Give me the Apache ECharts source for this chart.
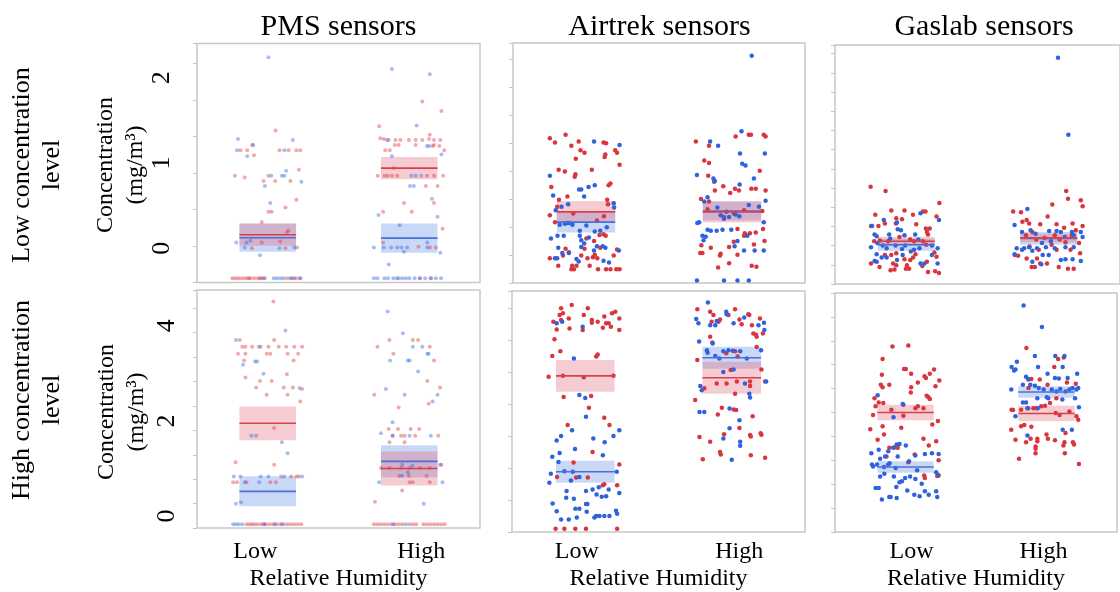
<!DOCTYPE html>
<html><head><meta charset="utf-8">
<script src="https://cdn.jsdelivr.net/npm/echarts@6/dist/echarts.min.js"></script>
<style>html,body{margin:0;padding:0;background:#fff}#c{width:1120px;height:592px}</style>
</head><body><div id="c"></div>
<script>
// ---- categories / labels ----
const rhCategories = ['Low', 'High'];
const sensorTitles = ['PMS sensors', 'Airtrek sensors', 'Gaslab sensors'];
const rowTitles = ['Low concentration\nlevel', 'High concentration\nlevel'];
const yTitle = 'Concentration\n(mg/m³)';
const xTitle = 'Relative Humidity';
const topTickLabels = [0, 1, 2];
const bottomTickLabels = [0, 2, 4];

// ---- points: [jitter (-1..1), concentration] ----
// PMS, low concentration
const pmsLo_lowRH_red = [[0.22,1.38],[-0.77,1.15],[-0.58,1.15],[-0.44,1.21],[-0.39,1.09],[0.33,1.15],[0.59,1.15],[0.81,1.15],[0.92,1.15],[-0.93,0.85],[-0.65,0.83],[0.02,0.85],[0.88,0.92],[0.64,0.79],[-0.12,0.79],[0.21,0.79],[0.81,0.57],[0.50,0.48],[0.02,0.43],[0.11,0.43],[-0.17,0.31],[0.59,0.21],[0.54,0.19],[-0.17,0.07],[0.35,0.08],[-0.45,0.00],[0.50,0.00],[0.83,0.01],[-1.0,-0.35],[-0.92,-0.35],[-0.84,-0.35],[-0.75,-0.35],[-0.66,-0.35],[-0.58,-0.35],[-0.48,-0.35],[-0.38,-0.35],[-0.28,-0.35],[-0.18,-0.35],[-0.08,-0.35],[0.55,-0.35],[0.68,-0.35],[0.8,-0.35],[0.9,-0.35],[-0.53,-0.35],[-0.22,-0.35]];
const pmsLo_lowRH_blue = [[0.02,2.24],[-0.84,1.28],[-0.87,1.15],[-0.58,1.08],[-0.41,1.21],[0.47,1.15],[0.71,1.27],[0.10,0.85],[0.40,0.85],[0.47,0.85],[0.52,0.91],[0.95,0.78],[-0.08,0.73],[0.07,0.53],[-0.89,0.07],[-0.60,0.07],[-0.49,0.09],[-0.65,0.01],[0.33,0.00],[0.75,0.01],[-0.22,-0.08],[0.17,-0.35],[0.26,-0.35],[0.36,-0.35],[0.45,-0.35],[0.64,-0.35],[0.74,-0.35],[0.93,-0.35],[-0.12,-0.35]];
const pmsLo_highRH_red = [[0.37,1.72],[0.91,1.61],[-0.85,1.43],[-0.82,1.29],[-0.72,1.28],[-0.63,1.27],[-0.39,1.27],[-0.25,1.27],[-0.01,1.27],[0.18,1.27],[0.37,1.27],[0.56,1.28],[0.70,1.27],[0.88,1.27],[0.58,1.33],[-0.41,1.21],[-0.30,1.21],[0.18,1.21],[0.66,1.20],[0.70,1.21],[0.85,1.20],[-0.68,1.15],[-0.55,1.15],[0.99,1.15],[-0.89,0.85],[-0.70,0.85],[-0.61,0.85],[-0.49,0.85],[-0.34,0.85],[0.50,0.85],[0.70,0.85],[0.96,0.85],[-0.44,0.94],[0.47,0.73],[0.80,0.73],[-0.15,0.53],[0.70,0.53],[-0.74,0.43],[0.07,0.43],[0.94,0.23],[-0.74,0.07],[0.26,0.02],[0.59,0.01],[0.75,0.01],[0.3,-0.35],[0.62,-0.35]];
const pmsLo_highRH_blue = [[-0.49,2.10],[0.58,2.04],[0.21,1.44],[-0.58,1.27],[0.50,1.20],[0.56,1.20],[0.91,1.10],[-0.49,1.08],[0.06,0.85],[0.18,0.85],[0.34,0.85],[0.02,0.73],[0.13,0.73],[0.64,0.58],[-0.87,0.39],[0.80,0.37],[-0.27,0.27],[-1.0,0.01],[-0.72,0.01],[-0.51,0.01],[-0.34,0.01],[-0.22,0.01],[-0.06,0.01],[0.51,0.01],[0.51,0.07],[-0.15,-0.04],[0.88,-0.05],[-0.58,-0.19],[-1.0,-0.35],[-0.9,-0.35],[-0.7,-0.35],[-0.6,-0.35],[-0.45,-0.35],[-0.35,-0.35],[-0.3,-0.35],[-0.2,-0.35],[-0.1,-0.35],[0.0,-0.35],[0.15,-0.35],[0.3,-0.35],[0.45,-0.35],[0.6,-0.35],[0.75,-0.35],[0.9,-0.35]];
// Airtrek, low concentration
const airLo_lowRH_red = [[-0.99,1.29],[-0.85,1.24],[-0.56,1.33],[-0.40,1.20],[-0.20,1.25],[-0.28,1.05],[-0.15,1.15],[-0.04,1.12],[0.48,1.24],[0.55,1.23],[0.53,1.10],[0.51,1.07],[0.80,1.15],[0.85,1.12],[0.92,0.98],[-0.75,0.92],[-0.58,0.90],[-0.29,0.87],[-0.31,0.84],[0.16,0.92],[0.62,0.74],[0.67,0.76],[-0.95,0.72],[-0.74,0.57],[-0.51,0.61],[0.60,0.52],[0.58,0.57],[-0.99,0.39],[-0.79,0.49],[-0.85,0.31],[-0.35,0.41],[0.30,0.33],[0.49,0.38],[0.48,0.17],[0.54,0.15],[0.37,0.16],[0.22,0.09],[-0.56,0.00],[-0.47,-0.04],[-0.63,-0.08],[-0.99,-0.11],[-0.76,-0.20],[-0.38,-0.20],[-0.26,-0.20],[-0.33,-0.24],[-0.40,-0.24],[-0.13,-0.08],[0.04,-0.11],[-0.04,0.00],[0.19,-0.10],[0.24,-0.07],[0.31,-0.11],[0.39,0.01],[0.10,-0.20],[0.33,-0.24],[0.55,-0.24],[0.76,-0.08],[0.85,-0.01],[0.67,-0.24],[0.83,-0.24],[0.92,-0.24],[0.01,0.12]];
const airLo_lowRH_blue = [[-0.99,0.85],[-0.90,0.62],[-0.67,0.49],[-0.49,0.52],[-0.19,0.69],[-0.13,0.69],[0.07,0.72],[0.24,0.74],[-0.05,0.61],[0.22,1.25],[0.92,1.21],[-0.83,0.45],[0.76,0.53],[0.77,0.48],[-0.72,0.28],[-0.58,0.29],[-0.52,0.30],[-0.45,0.30],[-0.37,0.28],[-0.17,0.21],[0.01,0.27],[0.24,0.20],[0.39,0.21],[0.57,0.25],[-0.96,0.12],[-0.78,0.15],[-0.61,0.15],[-0.17,0.15],[-0.13,0.10],[0.08,0.13],[-0.05,0.06],[-0.76,0.01],[-0.65,-0.05],[-0.85,-0.11],[-0.79,-0.11],[-0.26,-0.12],[-0.20,-0.15],[-0.47,-0.05],[-0.13,0.02],[0.30,0.03],[0.46,0.03],[0.53,0.01],[0.90,-0.02],[0.48,-0.14],[0.63,-0.16],[0.22,-0.02]];
const airLo_highRH_red = [[-0.99,1.25],[-0.63,1.20],[-0.76,1.03],[-0.63,1.00],[0.10,1.31],[0.46,1.33],[0.52,1.33],[0.87,1.33],[0.92,1.31],[0.76,0.91],[-0.65,0.85],[-0.49,0.78],[-0.24,0.73],[0.08,0.70],[0.19,0.68],[-0.05,0.65],[0.53,0.70],[0.65,0.70],[0.92,0.68],[-0.47,0.68],[-0.85,0.58],[-0.63,0.55],[-0.67,0.46],[-0.22,0.37],[0.05,0.41],[0.33,0.45],[0.83,0.44],[0.15,0.23],[0.35,0.18],[0.49,0.18],[0.65,0.19],[0.85,0.23],[0.89,0.09],[-0.84,0.04],[-0.87,-0.05],[-0.81,-0.05],[-0.58,0.01],[-0.31,-0.06],[-0.33,-0.08],[-0.08,0.02],[0.15,-0.07],[-0.08,-0.17],[-0.38,-0.22],[0.33,0.15],[0.54,-0.20],[0.67,-0.21],[0.60,0.05],[0.05,0.08]];
const airLo_highRH_blue = [[0.26,1.37],[-0.60,1.25],[-0.38,1.20],[0.22,1.11],[0.90,1.11],[0.28,0.99],[0.37,0.97],[-0.96,0.86],[-0.51,0.82],[-0.47,0.79],[0.60,0.82],[0.21,0.75],[0.92,0.56],[-0.67,0.60],[-0.76,0.55],[-0.90,0.31],[-0.95,0.30],[-0.40,0.48],[-0.31,0.39],[-0.22,0.35],[-0.08,0.37],[0.46,0.51],[0.74,0.49],[0.87,0.31],[-0.81,0.15],[-0.78,0.10],[-0.67,0.22],[-0.58,0.21],[-0.42,0.21],[-0.26,0.22],[-0.02,0.22],[0.42,0.15],[0.15,0.09],[0.07,0.03],[0.33,-0.02],[0.62,-0.02],[0.87,-0.02],[-0.72,0.14],[-0.96,-0.37],[-0.22,-0.37],[0.15,-0.37],[0.46,-0.37],[0.54,2.25],[0.10,0.40],[-0.15,0.43],[0.20,0.38]];
// Gaslab, low concentration
const gasLo_lowRH_red = [[-1.0,0.74],[-0.58,0.69],[-0.87,0.41],[-0.42,0.46],[-0.05,0.46],[0.19,0.41],[0.47,0.45],[0.54,0.45],[0.93,0.55],[0.85,0.39],[-0.28,0.37],[-0.12,0.36],[-0.60,0.31],[-0.29,0.31],[-0.99,0.28],[-0.78,0.28],[0.28,0.30],[0.55,0.25],[0.58,0.21],[0.61,0.18],[0.66,0.25],[-0.19,0.15],[0.11,0.12],[0.22,0.10],[0.47,0.10],[-0.51,0.10],[-0.90,0.10],[0.56,0.06],[-0.28,-0.04],[-0.42,-0.06],[-0.60,-0.06],[-0.05,-0.11],[0.11,-0.12],[0.19,-0.09],[0.26,-0.05],[0.58,-0.14],[0.79,-0.03],[0.85,-0.08],[-0.75,-0.20],[-0.99,-0.16],[-0.37,-0.16],[-0.28,-0.18],[-0.44,-0.24],[-0.33,-0.23],[-0.01,-0.22],[0.08,-0.22],[0.02,-0.18],[0.45,-0.19],[0.61,-0.26],[0.81,-0.25],[0.92,-0.27],[-0.74,0.11]];
const gasLo_lowRH_blue = [[-0.63,0.35],[-0.26,0.32],[-0.96,0.28],[-0.89,0.18],[-0.83,0.16],[-0.48,0.18],[-0.45,0.13],[-0.24,0.24],[-0.15,0.23],[-0.05,0.17],[0.25,0.18],[0.34,0.12],[0.40,0.43],[0.92,0.35],[-0.99,0.03],[-0.81,0.08],[-0.66,0.05],[-0.55,0.02],[-0.30,0.05],[-0.12,0.01],[-0.03,0.05],[0.13,-0.02],[0.22,0.00],[0.37,0.02],[0.72,0.05],[0.88,0.02],[-0.89,-0.13],[-0.83,-0.14],[-0.69,-0.09],[-0.55,-0.09],[-0.26,-0.12],[-0.10,-0.06],[0.40,-0.16],[0.51,-0.16],[0.72,-0.06],[0.88,-0.16],[-0.83,-0.05]];
const gasLo_highRH_red = [[-1.0,0.45],[-0.78,0.44],[-0.74,0.33],[-0.62,0.35],[-0.55,0.31],[-0.24,0.30],[-0.03,0.39],[0.10,0.53],[0.22,0.30],[0.49,0.69],[0.54,0.60],[0.90,0.58],[0.95,0.51],[0.67,0.31],[0.43,0.26],[0.76,0.23],[0.95,0.28],[0.65,0.17],[-0.46,0.21],[-0.64,0.17],[-0.35,0.12],[-0.12,0.14],[0.17,0.17],[0.31,0.12],[0.47,0.09],[0.85,0.08],[-0.95,-0.06],[-0.86,-0.07],[-0.62,-0.10],[-0.33,-0.10],[-0.28,0.00],[-0.05,-0.16],[-0.24,-0.16],[-0.48,-0.20],[-0.39,-0.20],[0.28,-0.20],[0.54,-0.22],[0.70,-0.22],[0.88,-0.04],[0.61,0.00],[0.22,0.00],[-0.54,0.04],[0.08,0.06]];
const gasLo_highRH_blue = [[-0.60,0.48],[-0.96,0.29],[-0.75,0.21],[-0.51,0.23],[-0.37,0.19],[-0.75,0.00],[-0.90,0.02],[-0.69,0.02],[-0.55,0.03],[-0.46,-0.01],[-0.33,0.02],[-0.19,0.08],[-0.08,0.03],[0.01,0.22],[0.06,0.10],[0.22,0.22],[0.34,0.21],[0.45,0.15],[0.65,0.21],[0.70,0.17],[0.90,0.21],[0.95,0.15],[0.47,0.03],[0.70,0.03],[0.17,0.02],[-0.17,-0.06],[0.00,-0.06],[0.34,-0.12],[0.47,-0.11],[0.67,-0.11],[0.90,-0.13],[-0.46,-0.14],[-0.21,-0.17],[-0.96,-0.05],[0.26,2.25],[0.55,1.35]];
// PMS, high concentration
const pmsHi_lowRH_red = [[0.16,4.51],[-0.79,3.70],[0.18,3.70],[-0.72,3.56],[-0.63,3.56],[-0.44,3.56],[-0.20,3.56],[0.02,3.56],[0.31,3.56],[0.52,3.56],[0.75,3.56],[0.97,3.56],[-0.84,3.41],[-0.63,3.41],[-0.03,3.41],[0.07,3.41],[0.56,3.41],[0.86,3.41],[-0.67,3.27],[0.73,3.27],[-0.63,2.91],[-0.22,2.84],[0.11,2.84],[0.54,2.98],[-0.33,2.70],[0.45,2.70],[0.71,2.70],[0.97,2.67],[-0.03,2.55],[0.56,2.55],[0.92,2.41],[0.18,1.85],[-0.91,1.13],[0.18,1.08],[-0.98,0.71],[-0.87,0.71],[-0.60,0.71],[0.07,0.71],[0.23,0.71],[0.38,0.83],[0.66,0.83],[0.81,0.83],[0.88,0.83],[-0.6,-0.17],[-0.52,-0.17],[-0.45,-0.17],[-0.38,-0.17],[-0.3,-0.17],[-0.2,-0.17],[-0.12,-0.17],[-0.05,-0.17],[0.05,-0.17],[0.15,-0.17],[0.25,-0.17],[0.35,-0.17],[0.45,-0.17],[0.55,-0.17],[0.65,-0.17],[0.75,-0.17],[0.85,-0.17],[0.95,-0.17]];
const pmsHi_lowRH_blue = [[-0.90,3.70],[-0.25,3.56],[-0.70,3.18],[-0.36,3.25],[-0.30,3.25],[-0.12,2.99],[0.90,2.69],[0.50,3.90],[-0.46,1.69],[-0.33,1.69],[0.40,1.55],[0.56,1.32],[-0.96,0.83],[-0.77,0.83],[-0.20,0.83],[0.02,0.83],[0.47,0.83],[0.97,0.83],[-0.65,0.71],[-0.24,0.71],[-0.76,0.29],[-0.90,0.26],[-0.98,-0.17],[-0.9,-0.17],[-0.82,-0.17],[-0.72,-0.17],[-0.1,-0.17],[0.2,-0.17],[0.4,-0.17]];
const pmsHi_highRH_red = [[-0.56,3.70],[-0.45,3.41],[-0.90,3.56],[0.10,3.70],[0.25,3.70],[0.58,3.56],[0.70,3.27],[0.87,2.70],[0.55,2.36],[0.51,2.84],[-0.30,2.28],[-0.99,2.55],[-0.58,1.83],[-0.32,1.83],[0.04,1.83],[0.28,1.83],[-0.47,1.69],[-0.23,1.69],[-0.13,1.69],[0.17,1.69],[0.82,1.69],[-0.56,1.55],[-0.13,1.55],[-0.80,1.01],[-0.56,1.01],[-0.23,1.01],[0.01,1.01],[0.30,1.01],[0.58,1.01],[-0.28,0.85],[-0.01,0.85],[0.49,0.85],[0.01,0.71],[0.10,0.71],[0.58,0.71],[-0.20,0.54],[-0.97,0.30],[0.91,1.08],[-1.0,-0.17],[-0.9,-0.17],[-0.8,-0.17],[-0.7,-0.17],[-0.6,-0.17],[-0.5,-0.17],[-0.4,-0.17],[-0.3,-0.17],[-0.2,-0.17],[0.0,-0.17],[0.1,-0.17],[0.2,-0.17],[0.4,-0.17],[0.5,-0.17],[0.6,-0.17],[0.7,-0.17],[0.8,-0.17],[0.9,-0.17],[1.0,-0.17]];
const pmsHi_highRH_blue = [[-0.61,4.30],[-0.18,3.84],[0.10,3.56],[0.37,3.56],[0.51,3.41],[0.55,3.41],[-0.54,3.27],[-0.04,3.27],[0.01,3.27],[0.25,3.04],[-0.66,2.67],[-0.13,2.55],[0.80,2.55],[0.66,2.41],[-0.47,1.97],[-0.80,1.74],[-0.47,1.69],[0.01,1.69],[0.61,1.69],[-0.20,1.08],[0.09,1.06],[0.87,1.08],[-0.04,0.92],[-0.20,0.85],[-0.85,0.71],[0.94,0.71],[0.41,0.26],[-0.45,-0.17],[-0.1,-0.17]];
// Airtrek, high concentration
const airHi_lowRH_red = [[-0.37,4.46],[-0.66,4.39],[-0.61,4.29],[-0.66,4.15],[-0.70,4.25],[-0.87,4.11],[-0.78,3.95],[-0.45,4.18],[-0.43,3.97],[0.07,4.39],[-0.04,4.25],[-0.07,3.94],[0.18,4.15],[0.18,4.09],[0.34,4.11],[0.52,4.22],[0.57,4.08],[0.48,3.99],[0.64,4.08],[0.73,4.29],[0.82,4.32],[0.93,4.18],[0.93,3.94],[0.70,4.01],[-0.84,3.75],[-0.90,3.40],[-0.68,3.50],[0.30,3.39],[0.34,3.43],[-1.0,2.97],[-0.61,2.99],[-0.04,2.96],[0.77,2.99],[-0.59,2.55],[0.16,2.57],[0.10,2.33],[0.52,2.12],[0.66,1.97],[-0.48,1.97],[0.20,1.41],[0.93,1.15],[-0.32,1.19],[-0.77,0.89],[-0.25,0.88],[0.07,0.88],[0.48,0.72],[0.52,0.74],[0.87,0.72],[-0.81,-0.18],[-0.57,-0.18],[-0.27,-0.18],[0.02,-0.18],[0.87,-0.18]];
const airHi_lowRH_blue = [[-0.78,4.08],[-0.63,4.11],[-0.07,4.01],[-0.31,3.35],[-0.16,2.59],[0.00,2.53],[0.02,2.14],[-0.36,1.86],[-0.66,1.74],[-0.78,1.65],[0.93,1.86],[0.77,1.74],[0.22,1.69],[0.53,1.61],[-0.28,1.47],[-0.70,1.39],[-0.90,1.31],[-0.73,1.20],[0.48,1.34],[-0.57,1.01],[-0.94,0.96],[-0.98,0.77],[-0.34,1.00],[-0.39,0.82],[-0.16,0.89],[0.86,1.00],[-0.51,0.60],[0.02,0.60],[0.20,0.63],[0.31,0.53],[0.37,0.68],[0.45,0.48],[0.57,0.49],[0.64,0.63],[0.93,0.56],[-0.52,0.46],[-0.31,0.44],[-0.89,0.34],[-0.78,0.18],[-0.27,0.23],[-0.16,0.23],[0.02,0.33],[0.04,0.17],[-0.66,0.01],[-0.45,0.01],[-0.23,0.05],[0.25,0.05],[0.30,0.08],[0.39,0.08],[0.52,0.08],[0.66,0.08],[0.84,0.19],[0.87,0.13],[0.06,0.33]];
const airHi_highRH_red = [[-0.94,4.37],[-0.59,4.32],[-0.50,4.25],[-0.55,4.11],[-0.36,4.11],[-0.32,4.16],[-0.09,4.25],[0.09,4.37],[0.21,4.16],[0.45,4.27],[0.48,4.25],[0.77,4.18],[0.27,4.06],[0.55,4.04],[0.59,3.87],[0.66,3.84],[0.68,3.80],[0.85,3.87],[-0.59,3.80],[-0.53,3.68],[0.09,3.50],[-0.15,3.46],[0.68,3.59],[0.81,3.12],[0.91,2.87],[0.16,3.39],[-0.94,3.32],[-0.75,2.73],[-0.41,2.83],[-0.14,2.83],[0.14,2.87],[0.50,2.87],[0.09,2.62],[0.50,2.78],[-1.0,2.49],[-0.38,2.19],[-0.27,2.33],[0.05,2.29],[0.12,2.28],[0.57,2.15],[0.21,1.91],[-0.21,1.78],[-0.88,1.72],[-0.59,1.62],[0.50,1.76],[0.52,1.73],[0.79,1.80],[0.81,1.77],[-0.32,1.41],[-0.30,1.36],[-0.79,1.26],[0.52,1.34],[0.91,1.29],[-0.03,3.11]];
const airHi_highRH_blue = [[-0.65,4.51],[-0.97,4.17],[-0.91,4.08],[-0.59,4.04],[-0.45,4.04],[-0.41,4.13],[-0.15,4.32],[-0.14,4.27],[0.05,4.08],[0.34,4.20],[0.73,4.04],[0.88,4.09],[0.89,3.94],[-0.89,3.70],[-0.52,3.66],[-0.68,3.52],[-0.66,3.47],[-0.45,3.40],[-0.34,3.35],[-0.23,3.50],[-0.09,3.52],[0.03,3.51],[0.23,3.50],[0.41,3.35],[0.80,3.52],[0.36,2.83],[-0.86,2.78],[-0.82,2.69],[-0.23,3.07],[0.94,2.87],[0.05,3.12],[0.48,2.62],[0.50,2.54],[-0.88,2.24],[-0.75,2.24],[-0.06,2.31],[0.21,2.07],[-0.06,1.90],[-0.23,1.69],[0.23,1.62],[0.23,1.54],[0.00,1.25]];
// Gaslab, high concentration
const gasHi_lowRH_red = [[-0.37,3.63],[0.08,3.65],[-0.65,3.37],[-0.04,3.16],[0.01,3.16],[-0.67,3.04],[0.16,3.06],[0.54,3.01],[0.58,2.97],[0.69,3.06],[0.81,3.15],[0.96,2.92],[0.35,2.88],[-0.70,2.83],[-0.65,2.78],[-0.46,2.83],[0.16,2.78],[0.85,2.80],[0.15,2.67],[0.60,2.60],[0.65,2.57],[0.69,2.53],[-0.88,2.55],[-0.76,2.46],[-0.85,2.38],[-0.63,2.45],[-0.40,2.31],[-0.06,2.41],[0.28,2.34],[0.35,2.38],[0.51,2.34],[-0.06,2.18],[-0.92,2.20],[0.76,2.00],[0.92,2.07],[-1.0,1.90],[-0.65,1.96],[-0.61,1.79],[-0.12,1.93],[-0.79,1.68],[-0.46,1.51],[-0.31,1.52],[-0.22,1.51],[0.51,1.70],[0.66,1.56],[0.87,1.65],[0.94,1.25],[0.08,1.21],[-0.54,1.33],[0.26,1.37],[0.53,0.93],[0.55,0.88],[0.90,0.92],[0.94,0.93]];
const gasHi_lowRH_blue = [[-0.79,2.61],[-0.08,2.43],[-0.34,2.15],[-0.97,1.40],[-0.76,1.47],[-0.49,1.44],[-0.35,1.51],[-0.25,1.58],[-0.17,1.59],[0.01,1.56],[-0.22,1.33],[-0.58,1.33],[-0.72,1.28],[-0.45,1.19],[0.10,1.23],[0.28,1.35],[0.55,1.38],[0.75,1.40],[0.94,1.38],[-0.95,1.16],[-0.92,1.12],[-0.81,1.16],[-0.61,1.11],[-0.49,1.16],[-0.28,1.09],[0.33,1.04],[0.87,1.00],[0.92,0.95],[-0.72,0.91],[-0.60,0.97],[-0.33,0.91],[-0.17,0.79],[-0.10,0.81],[-0.01,0.88],[0.13,0.91],[0.28,0.86],[0.46,0.76],[-0.85,0.67],[-0.76,0.67],[-0.26,0.69],[0.05,0.62],[0.25,0.53],[0.40,0.50],[0.55,0.60],[0.66,0.53],[0.87,0.60],[0.90,0.48],[-0.67,0.43],[-0.46,0.48],[-0.42,0.48],[-0.25,0.46]];
const gasHi_highRH_red = [[-0.57,3.60],[0.33,3.37],[0.49,3.40],[0.22,3.20],[-0.51,2.94],[-0.43,2.95],[-0.51,2.76],[-0.19,2.94],[0.03,2.83],[0.28,2.55],[0.83,2.85],[0.58,2.88],[-0.72,2.31],[-0.99,2.31],[-0.95,2.30],[-0.52,2.34],[-0.37,2.34],[-0.28,2.34],[-0.15,2.38],[-0.04,2.39],[0.10,2.45],[0.26,2.24],[0.37,2.20],[0.65,2.27],[0.85,2.17],[0.90,2.10],[-1.0,1.89],[-0.72,1.96],[-0.63,1.99],[-0.43,1.95],[0.00,1.79],[0.04,1.70],[0.24,1.67],[-0.45,1.70],[-0.26,1.70],[-0.26,1.65],[-0.88,1.68],[-0.58,1.63],[-0.31,1.54],[-0.31,1.49],[-0.31,1.40],[0.51,1.63],[0.48,1.56],[0.54,1.82],[0.75,1.63],[0.78,1.58],[0.52,1.40],[-0.78,1.28],[0.92,1.17]];
const gasHi_highRH_blue = [[-0.65,4.49],[-0.13,4.04],[-0.84,3.31],[-0.33,3.43],[0.25,3.43],[-0.99,3.20],[-0.92,3.13],[-0.88,3.15],[-0.24,3.20],[0.51,3.43],[0.46,3.20],[-0.58,3.00],[-0.52,2.95],[0.03,3.06],[0.24,2.97],[0.35,2.96],[0.60,2.97],[0.87,3.06],[-1.0,2.73],[-0.67,2.83],[-0.46,2.83],[-0.33,2.81],[-0.22,2.76],[-0.08,2.73],[0.15,2.73],[0.28,2.69],[0.39,2.74],[0.54,2.69],[0.65,2.73],[0.74,2.76],[0.85,2.73],[0.90,2.76],[-0.67,2.46],[-0.58,2.46],[-0.26,2.55],[0.01,2.57],[0.05,2.55],[0.45,2.52],[0.81,2.55],[-0.54,2.34],[-0.25,2.34],[-0.88,2.17],[-0.54,1.77],[0.72,1.89],[0.46,1.89],[0.92,2.36]];

// ---- group means and half-widths: [mean, half] ; order: lowRH red, lowRH blue, highRH red, highRH blue ----
const pmsLoMeans = [[0.16,0.13],[0.125,0.165],[0.94,0.13],[0.12,0.17]];
const airLoMeans = [[0.43,0.127],[0.31,0.12],[0.43,0.125],[0.44,0.11]];
const gasLoMeans = [[0.10,0.055],[0.06,0.07],[0.14,0.05],[0.135,0.075]];
const pmsHiMeans = [[1.95,0.355],[0.52,0.315],[1.00,0.355],[1.15,0.34]];
const airHiMeans = [[2.99,0.33],[1.00,0.23],[2.95,0.33],[3.365,0.23]];
const gasHiMeans = [[2.25,0.16],[1.11,0.12],[2.23,0.16],[2.68,0.12]];

// ---- styling / layout ----
const FONT = '"Liberation Serif", "DejaVu Serif", serif';
const RED = '#d9353f', BLUE = '#2f63dd';
const RED_LINE = '#d8404c', BLUE_LINE = '#4a70d8';
const RED_FILL = 'rgba(225,95,115,0.32)', BLUE_FILL = 'rgba(80,125,230,0.30)';
const gridPos = [
  {left:197, top:43.5, width:283, height:239},
  {left:513, top:43, width:292, height:240},
  {left:835, top:45, width:298, height:239},
  {left:197, top:290, width:283, height:238},
  {left:512, top:291, width:293, height:241},
  {left:835, top:293, width:298, height:239}
];
const tickCounts = [6.55, 8.57, 12.45, 9.75, 7.55, 10];
const panels = [
  {red:[pmsLo_lowRH_red, pmsLo_highRH_red], blue:[pmsLo_lowRH_blue, pmsLo_highRH_blue], means:pmsLoMeans, faded:true},
  {red:[airLo_lowRH_red, airLo_highRH_red], blue:[airLo_lowRH_blue, airLo_highRH_blue], means:airLoMeans, faded:false},
  {red:[gasLo_lowRH_red, gasLo_highRH_red], blue:[gasLo_lowRH_blue, gasLo_highRH_blue], means:gasLoMeans, faded:false},
  {red:[pmsHi_lowRH_red, pmsHi_highRH_red], blue:[pmsHi_lowRH_blue, pmsHi_highRH_blue], means:pmsHiMeans, faded:true},
  {red:[airHi_lowRH_red, airHi_highRH_red], blue:[airHi_lowRH_blue, airHi_highRH_blue], means:airHiMeans, faded:false},
  {red:[gasHi_lowRH_red, gasHi_highRH_red], blue:[gasHi_lowRH_blue, gasHi_highRH_blue], means:gasHiMeans, faded:false}
];
const xLabelRich = [
  null, null, null,
  {l:{padding:[0,25,0,0]}, h:{padding:[0,0,0,24]}},
  {l:{padding:[0,17,0,0]}, h:{padding:[0,0,0,15]}},
  {l:{padding:[0,0,0,12]}, h:{padding:[0,6,0,0]}}
];
const CENTERS = [0.5, 1.5];
const JIT = 0.25, HALF = 0.2;

function jitter(arr, c) { return arr.map(p => [c + p[0] * JIT, p[1]]); }

function renderBox(params, api) {
  const xc = api.value(0), m = api.value(1), h = api.value(2), blue = api.value(3) === 1;
  const a = api.coord([xc - HALF, m + h]), b = api.coord([xc + HALF, m - h]);
  return {type:'rect', shape:{x:a[0], y:a[1], width:b[0]-a[0], height:b[1]-a[1]},
    style:{fill: blue ? BLUE_FILL : RED_FILL}};
}
function renderLine(params, api) {
  const xc = api.value(0), m = api.value(1), blue = api.value(3) === 1;
  const a = api.coord([xc - HALF, m]), b = api.coord([xc + HALF, m]);
  return {type:'line', shape:{x1:a[0], y1:a[1], x2:b[0], y2:b[1]},
    style:{stroke: blue ? BLUE_LINE : RED_LINE, lineWidth:1.6}};
}

const grid = [], xAxis = [], yAxis = [], series = [];
panels.forEach((p, i) => {
  const top = i < 3;
  const g = gridPos[i];
  grid.push(Object.assign({show:true, borderColor:'#c8c8c8', borderWidth:1.5, backgroundColor:'#fff'}, g));
  const bottomRow = !top;
  const richBase = {fontFamily:FONT, fontSize:24, color:'#000'};
  xAxis.push({
    gridIndex:i, type:'value', min:0, max:2, interval:0.5,
    axisLine:{show:false}, axisTick:{show:false}, splitLine:{show:false},
    axisLabel:{
      show: bottomRow, margin: i === 3 ? 12 : 8,
      fontFamily: FONT, fontSize: 24, color:'#000',
      formatter: v => Math.abs(v - 0.5) < 1e-6 ? '{l|' + rhCategories[0] + '}' : (Math.abs(v - 1.5) < 1e-6 ? '{h|' + rhCategories[1] + '}' : ''),
      rich: bottomRow ? {l:Object.assign({}, richBase, xLabelRich[i].l), h:Object.assign({}, richBase, xLabelRich[i].h)} : {}
    },
    name: bottomRow ? xTitle : '', nameLocation:'middle', nameGap: i === 3 ? 39 : 35,
    nameTextStyle:{fontFamily:FONT, fontSize:24, color:'#000'}
  });
  const labels = top ? topTickLabels : bottomTickLabels;
  yAxis.push({
    gridIndex:i, type:'value', position:'left', min: top ? -0.4 : -0.25, max: top ? 2.4 : 4.75, interval: top ? 0.2 : 0.25,
    axisLine:{show:false}, axisTick:{show:false}, splitLine:{show:false},
    axisLabel:{
      show: i === 0 || i === 3, rotate:90, margin: i === 0 ? 22 : 17,
      fontFamily: FONT, fontSize: 26, color:'#000',
      formatter: v => { const r = Math.round(v); return (Math.abs(v - r) < 1e-6 && labels.indexOf(r) >= 0) ? String(r) : ''; }
    }
  });
  yAxis.push({
    gridIndex:i, type:'value', position:'left', offset:0, min:0, max:tickCounts[i], interval:1,
    axisLine:{show:false}, axisLabel:{show:false}, splitLine:{show:false},
    axisTick:{show:true, length:4, lineStyle:{color:'#c4c4c4', width:1}}
  });
  const yi = 2 * i;
  const boxData = [];
  CENTERS.forEach((c, k) => {
    boxData.push([c, p.means[2*k+1][0], p.means[2*k+1][1], 1]);
    boxData.push([c, p.means[2*k][0], p.means[2*k][1], 0]);
  });
  series.push({type:'custom', xAxisIndex:i, yAxisIndex:yi, renderItem:renderBox, data:boxData, encode:{x:0, y:1}, z:1, silent:true});
  const op = p.faded ? 0.42 : 1;
  const sz = p.faded ? 4 : 4.5;
  series.push({type:'scatter', xAxisIndex:i, yAxisIndex:yi, symbolSize:sz, z:2, silent:true,
    itemStyle:{color:RED, opacity:op}, data: jitter(p.red[0], CENTERS[0]).concat(jitter(p.red[1], CENTERS[1]))});
  series.push({type:'scatter', xAxisIndex:i, yAxisIndex:yi, symbolSize:sz, z:2, silent:true,
    itemStyle:{color:BLUE, opacity:op}, data: jitter(p.blue[0], CENTERS[0]).concat(jitter(p.blue[1], CENTERS[1]))});
  series.push({type:'custom', xAxisIndex:i, yAxisIndex:yi, renderItem:renderLine, data:boxData, encode:{x:0, y:1}, z:3, silent:true});
});

const titleX = [338.5, 659.5, 984];
const graphic = [];
sensorTitles.forEach((t, k) => graphic.push({type:'text', x:titleX[k], y:27, silent:true,
  style:{text:t, fontFamily:FONT, fontSize:30, fill:'#000', align:'center', verticalAlign:'middle'}}));
[[37,165],[37,400]].forEach((pos, k) => graphic.push({type:'text', x:pos[0], y:pos[1], rotation:Math.PI/2, silent:true,
  style:{text:rowTitles[k], fontFamily:FONT, fontSize:26, lineHeight:30, fill:'#000', align:'center', verticalAlign:'middle'}}));
[[121,165],[122,412]].forEach(pos => graphic.push({type:'text', x:pos[0], y:pos[1], rotation:Math.PI/2, silent:true,
  style:{text:yTitle, fontFamily:FONT, fontSize:24, lineHeight:30, fill:'#000', align:'center', verticalAlign:'middle'}}));

const chart = echarts.init(document.getElementById('c'), null, {renderer:'canvas'});
chart.setOption({animation:false, backgroundColor:'#fff', grid, xAxis, yAxis, series, graphic});
</script></body></html>
